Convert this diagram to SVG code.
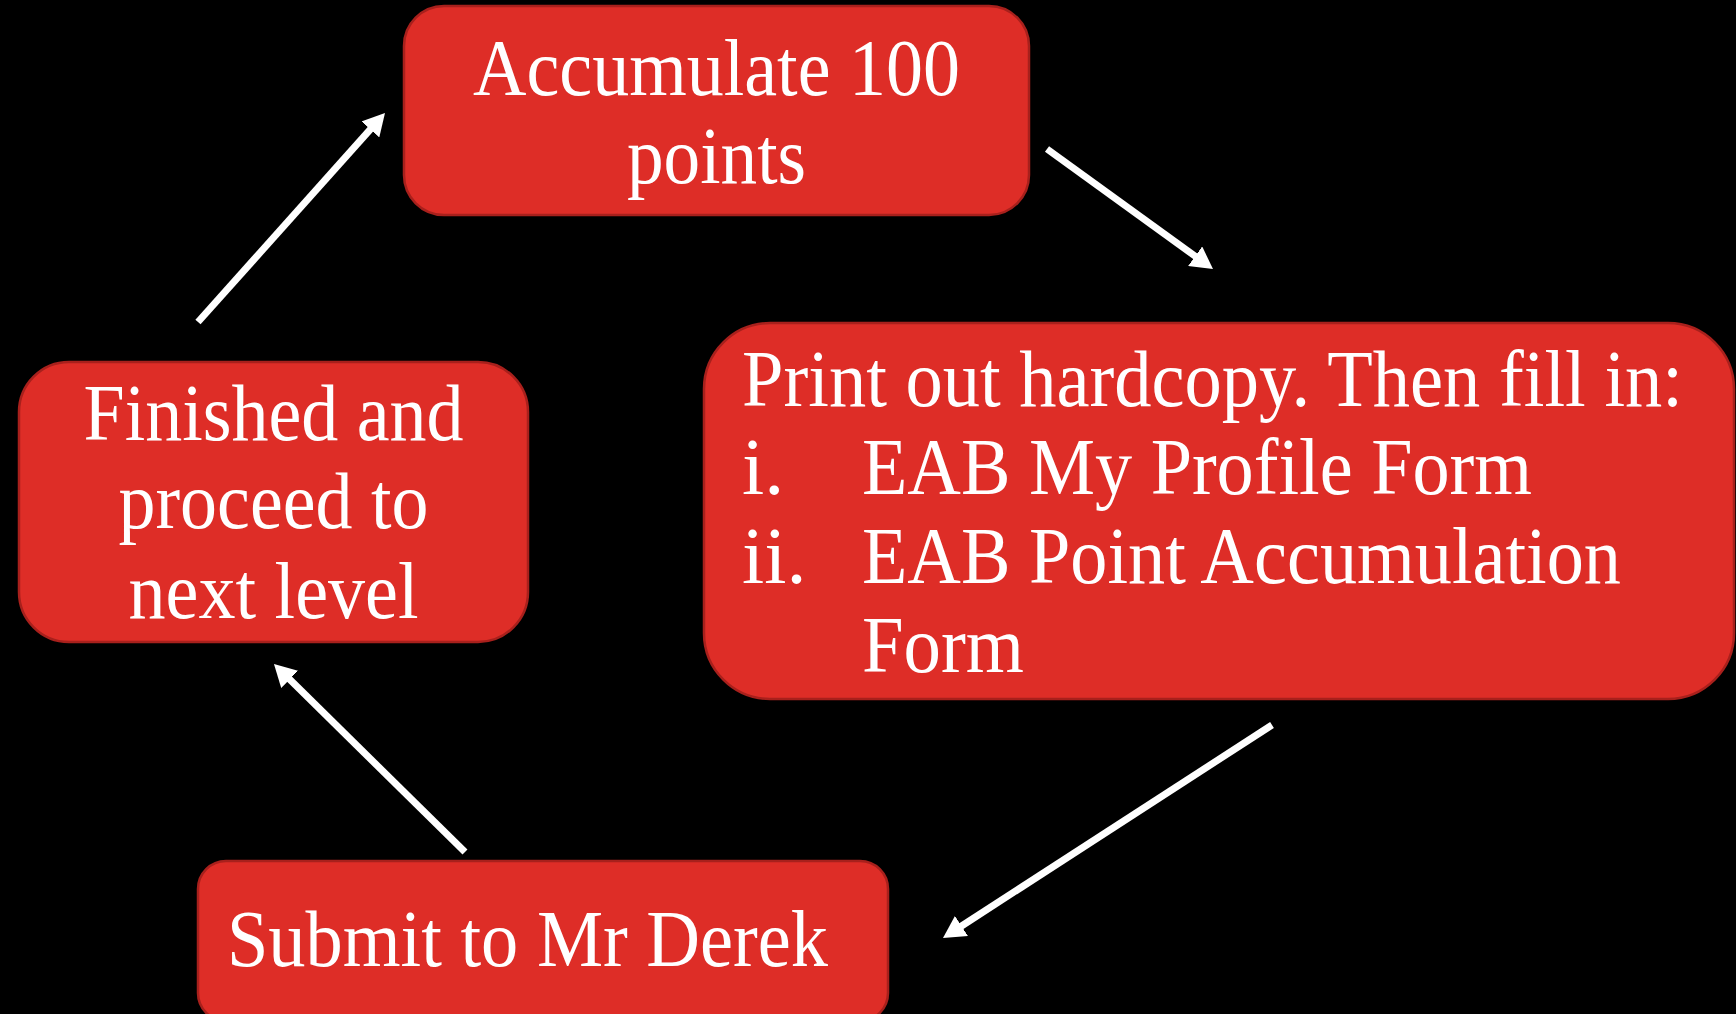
<svg xmlns="http://www.w3.org/2000/svg" width="1736" height="1014" viewBox="0 0 1736 1014">
  <style>
    .box { fill: #DE2D27; stroke: #A8201C; stroke-width: 2.5; }
    .t { font-family: "Liberation Serif", "Times New Roman", serif; font-size: 80px; fill: #FFFFFF; }
    .c { text-anchor: middle; }
    .conn { stroke: #FFFFFF; stroke-width: 7; fill: none; stroke-linecap: butt; marker-end: url(#head); }
  </style>
  <defs>
    <marker id="head" markerUnits="userSpaceOnUse" viewBox="0 0 22 24" markerWidth="22" markerHeight="24" refX="4" refY="12" orient="auto">
      <path d="M0,0 L22,12 L0,24 z" fill="#FFFFFF"/>
    </marker>
  </defs>
  <rect x="0" y="0" width="1736" height="1014" fill="#000000"/>

  <g id="node-accumulate">
    <rect class="box" x="404" y="6" width="625" height="209" rx="40" ry="40"/>
    <text class="t c" x="716.5" y="95" textLength="487" lengthAdjust="spacingAndGlyphs">Accumulate 100</text>
    <text class="t c" x="716.5" y="183" textLength="179" lengthAdjust="spacingAndGlyphs">points</text>
  </g>

  <g id="node-print">
    <rect class="box" x="704" y="323" width="1030" height="376" rx="66" ry="66"/>
    <text class="t" x="742" y="406" textLength="941" lengthAdjust="spacingAndGlyphs">Print out hardcopy. Then fill in:</text>
    <text class="t" x="742" y="494">i.</text>
    <text class="t" x="862" y="494" textLength="670" lengthAdjust="spacingAndGlyphs">EAB My Profile Form</text>
    <text class="t" x="742" y="583">ii.</text>
    <text class="t" x="862" y="583" textLength="759" lengthAdjust="spacingAndGlyphs">EAB Point Accumulation</text>
    <text class="t" x="862" y="672" textLength="162" lengthAdjust="spacingAndGlyphs">Form</text>
  </g>

  <g id="node-finished">
    <rect class="box" x="19" y="362" width="509" height="280" rx="50" ry="50"/>
    <text class="t c" x="273.5" y="440" textLength="380" lengthAdjust="spacingAndGlyphs">Finished and</text>
    <text class="t c" x="273.5" y="528" textLength="310" lengthAdjust="spacingAndGlyphs">proceed to</text>
    <text class="t c" x="273.5" y="618" textLength="290" lengthAdjust="spacingAndGlyphs">next level</text>
  </g>

  <g id="node-submit">
    <rect class="box" x="198" y="861" width="690" height="160" rx="28" ry="28"/>
    <text class="t" x="227" y="966" textLength="601" lengthAdjust="spacingAndGlyphs">Submit to Mr Derek</text>
  </g>

  <g id="connectors">
    <line class="conn" x1="198" y1="322" x2="373" y2="126.4"/>
    <line class="conn" x1="1047" y1="149" x2="1198.4" y2="258.5"/>
    <line class="conn" x1="1272" y1="725" x2="958.1" y2="928.2"/>
    <line class="conn" x1="465" y1="852" x2="286.8" y2="676.6"/>
  </g>
</svg>
